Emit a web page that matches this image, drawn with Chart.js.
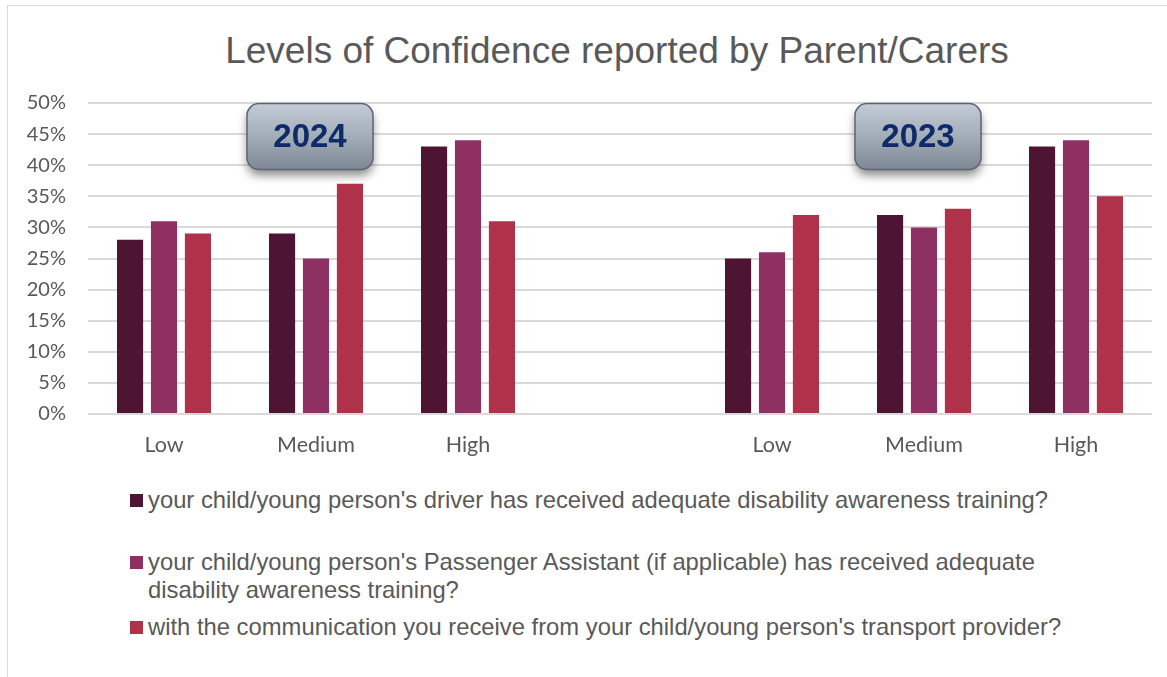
<!DOCTYPE html>
<html lang="en">
<head>
<meta charset="UTF-8" />
<title>Levels of Confidence reported by Parent/Carers</title>
<script src="https://cdn.jsdelivr.net/npm/chart.js"></script>
<style>
  html, body { margin: 0; padding: 0; background: #fff; }
  body { width: 1167px; height: 677px; position: relative; overflow: hidden; font-family: 'Liberation Sans', Arial, sans-serif; }
  .frame { position: absolute; left: 7px; top: 5px; width: 1170px; height: 690px; border: 1px solid #d9d9d9; }
  .title { position: absolute; top: 30px; left: 0; width: 1234px; text-align: center; font-size: 37px; color: #595959; }
  #wrap { position: absolute; left: 0; top: 0; width: 1167px; height: 462px; }
  .legend { position: absolute; left: 130px; top: 486px; color: #595959; font-size: 23.8px; line-height: 28px; }
  .legend .item { display: flex; align-items: flex-start; }
  .legend .sw { width: 13px; height: 13px; margin: 8px 5px 0 0; flex: none; }
</style>
</head>
<body>
<div class="frame"></div>
<div class="title">Levels of Confidence reported by Parent/Carers</div>
<div id="wrap"><canvas id="chart"></canvas></div>
<div class="legend" id="legend"></div>

<script>
// categories: 2024 group, empty gap, 2023 group
const categories = ['Low', 'Medium', 'High', '', 'Low', 'Medium', 'High'];
const yearLabels = ['2024', '2023'];

const seriesNames = [
  "your child/young person's driver has received adequate disability awareness training?",
  "your child/young person's Passenger Assistant (if applicable) has received adequate<br>disability awareness training?",
  "with the communication you receive from your child/young person's transport provider?"
];
const driverValues = [28, 29, 43, null, 25, 32, 43];
const assistantValues = [31, 25, 44, null, 26, 30, 44];
const communicationValues = [29, 37, 31, null, 32, 33, 35];
const seriesColors = ['#4e1433', '#8e3062', '#b0314a'];

// legend in html so the long labels can wrap
const legendEl = document.getElementById('legend');
const legendTops = [0, 62, 127];
seriesNames.forEach((name, i) => {
  const div = document.createElement('div');
  div.className = 'item';
  div.style.position = 'absolute';
  div.style.top = legendTops[i] + 'px';
  div.style.whiteSpace = 'nowrap';
  div.innerHTML = '<span class="sw" style="background:' + seriesColors[i] + '"></span><span>' + name + '</span>';
  legendEl.appendChild(div);
});

// the two grey "year" buttons
const yearBoxes = {
  id: 'yearBoxes',
  afterDraw(chart) {
    const ctx = chart.ctx;
    const x = chart.scales.x, y = chart.scales.y;
    const spots = [1, 5];
    spots.forEach((idx, i) => {
      const cx = x.getPixelForValue(idx) - 6;
      const cy = y.getPixelForValue(44.6);
      const w = 126, h = 66, r = 12;
      const left = cx - w / 2, top = cy - h / 2;
      ctx.save();
      ctx.shadowColor = 'rgba(0,0,0,0.45)';
      ctx.shadowBlur = 10;
      ctx.shadowOffsetY = 6;
      const g = ctx.createLinearGradient(0, top, 0, top + h);
      g.addColorStop(0, '#c3ccd5');
      g.addColorStop(0.5, '#a3adb8');
      g.addColorStop(1, '#7d8894');
      ctx.fillStyle = g;
      ctx.beginPath();
      ctx.roundRect(left, top, w, h, r);
      ctx.fill();
      ctx.shadowColor = 'transparent';
      ctx.strokeStyle = '#5d6670';
      ctx.lineWidth = 1.5;
      ctx.stroke();
      ctx.fillStyle = '#0e2a6b';
      ctx.font = 'bold 33px "Liberation Sans", Arial, sans-serif';
      ctx.textAlign = 'center';
      ctx.textBaseline = 'middle';
      ctx.fillText(yearLabels[i], cx, cy + 1);
      ctx.restore();
    });
  }
};

const ctx = document.getElementById('chart').getContext('2d');
new Chart(ctx, {
  type: 'bar',
  data: {
    labels: categories,
    datasets: [
      { label: 'driver', data: driverValues, backgroundColor: seriesColors[0] },
      { label: 'assistant', data: assistantValues, backgroundColor: seriesColors[1] },
      { label: 'communication', data: communicationValues, backgroundColor: seriesColors[2] }
    ]
  },
  options: {
    responsive: true,
    maintainAspectRatio: false,
    animation: false,
    datasets: { bar: { categoryPercentage: 0.67, barPercentage: 0.77 } },
    layout: { padding: { top: 103, right: 15, left: 0, bottom: 0 } },
    plugins: {
      legend: { display: false },
      title: { display: false },
      tooltip: { enabled: false }
    },
    scales: {
      x: {
        grid: { display: false, drawTicks: false },
        border: { display: false },
        ticks: { color: '#595959', font: { family: 'Lato', size: 21.5 }, padding: 18, maxRotation: 0 },
        afterFit(scale) { scale.height = 48; }
      },
      y: {
        min: 0, max: 50,
        grid: { color: '#d9d9d9', lineWidth: 2, drawTicks: false },
        border: { display: false },
        ticks: {
          stepSize: 5,
          color: '#595959',
          font: { family: 'Lato', size: 20 },
          padding: 22,
          callback: v => v + '%'
        },
        afterFit(scale) { scale.width = 88; }
      }
    }
  },
  plugins: [yearBoxes]
});
</script>
</body>
</html>
